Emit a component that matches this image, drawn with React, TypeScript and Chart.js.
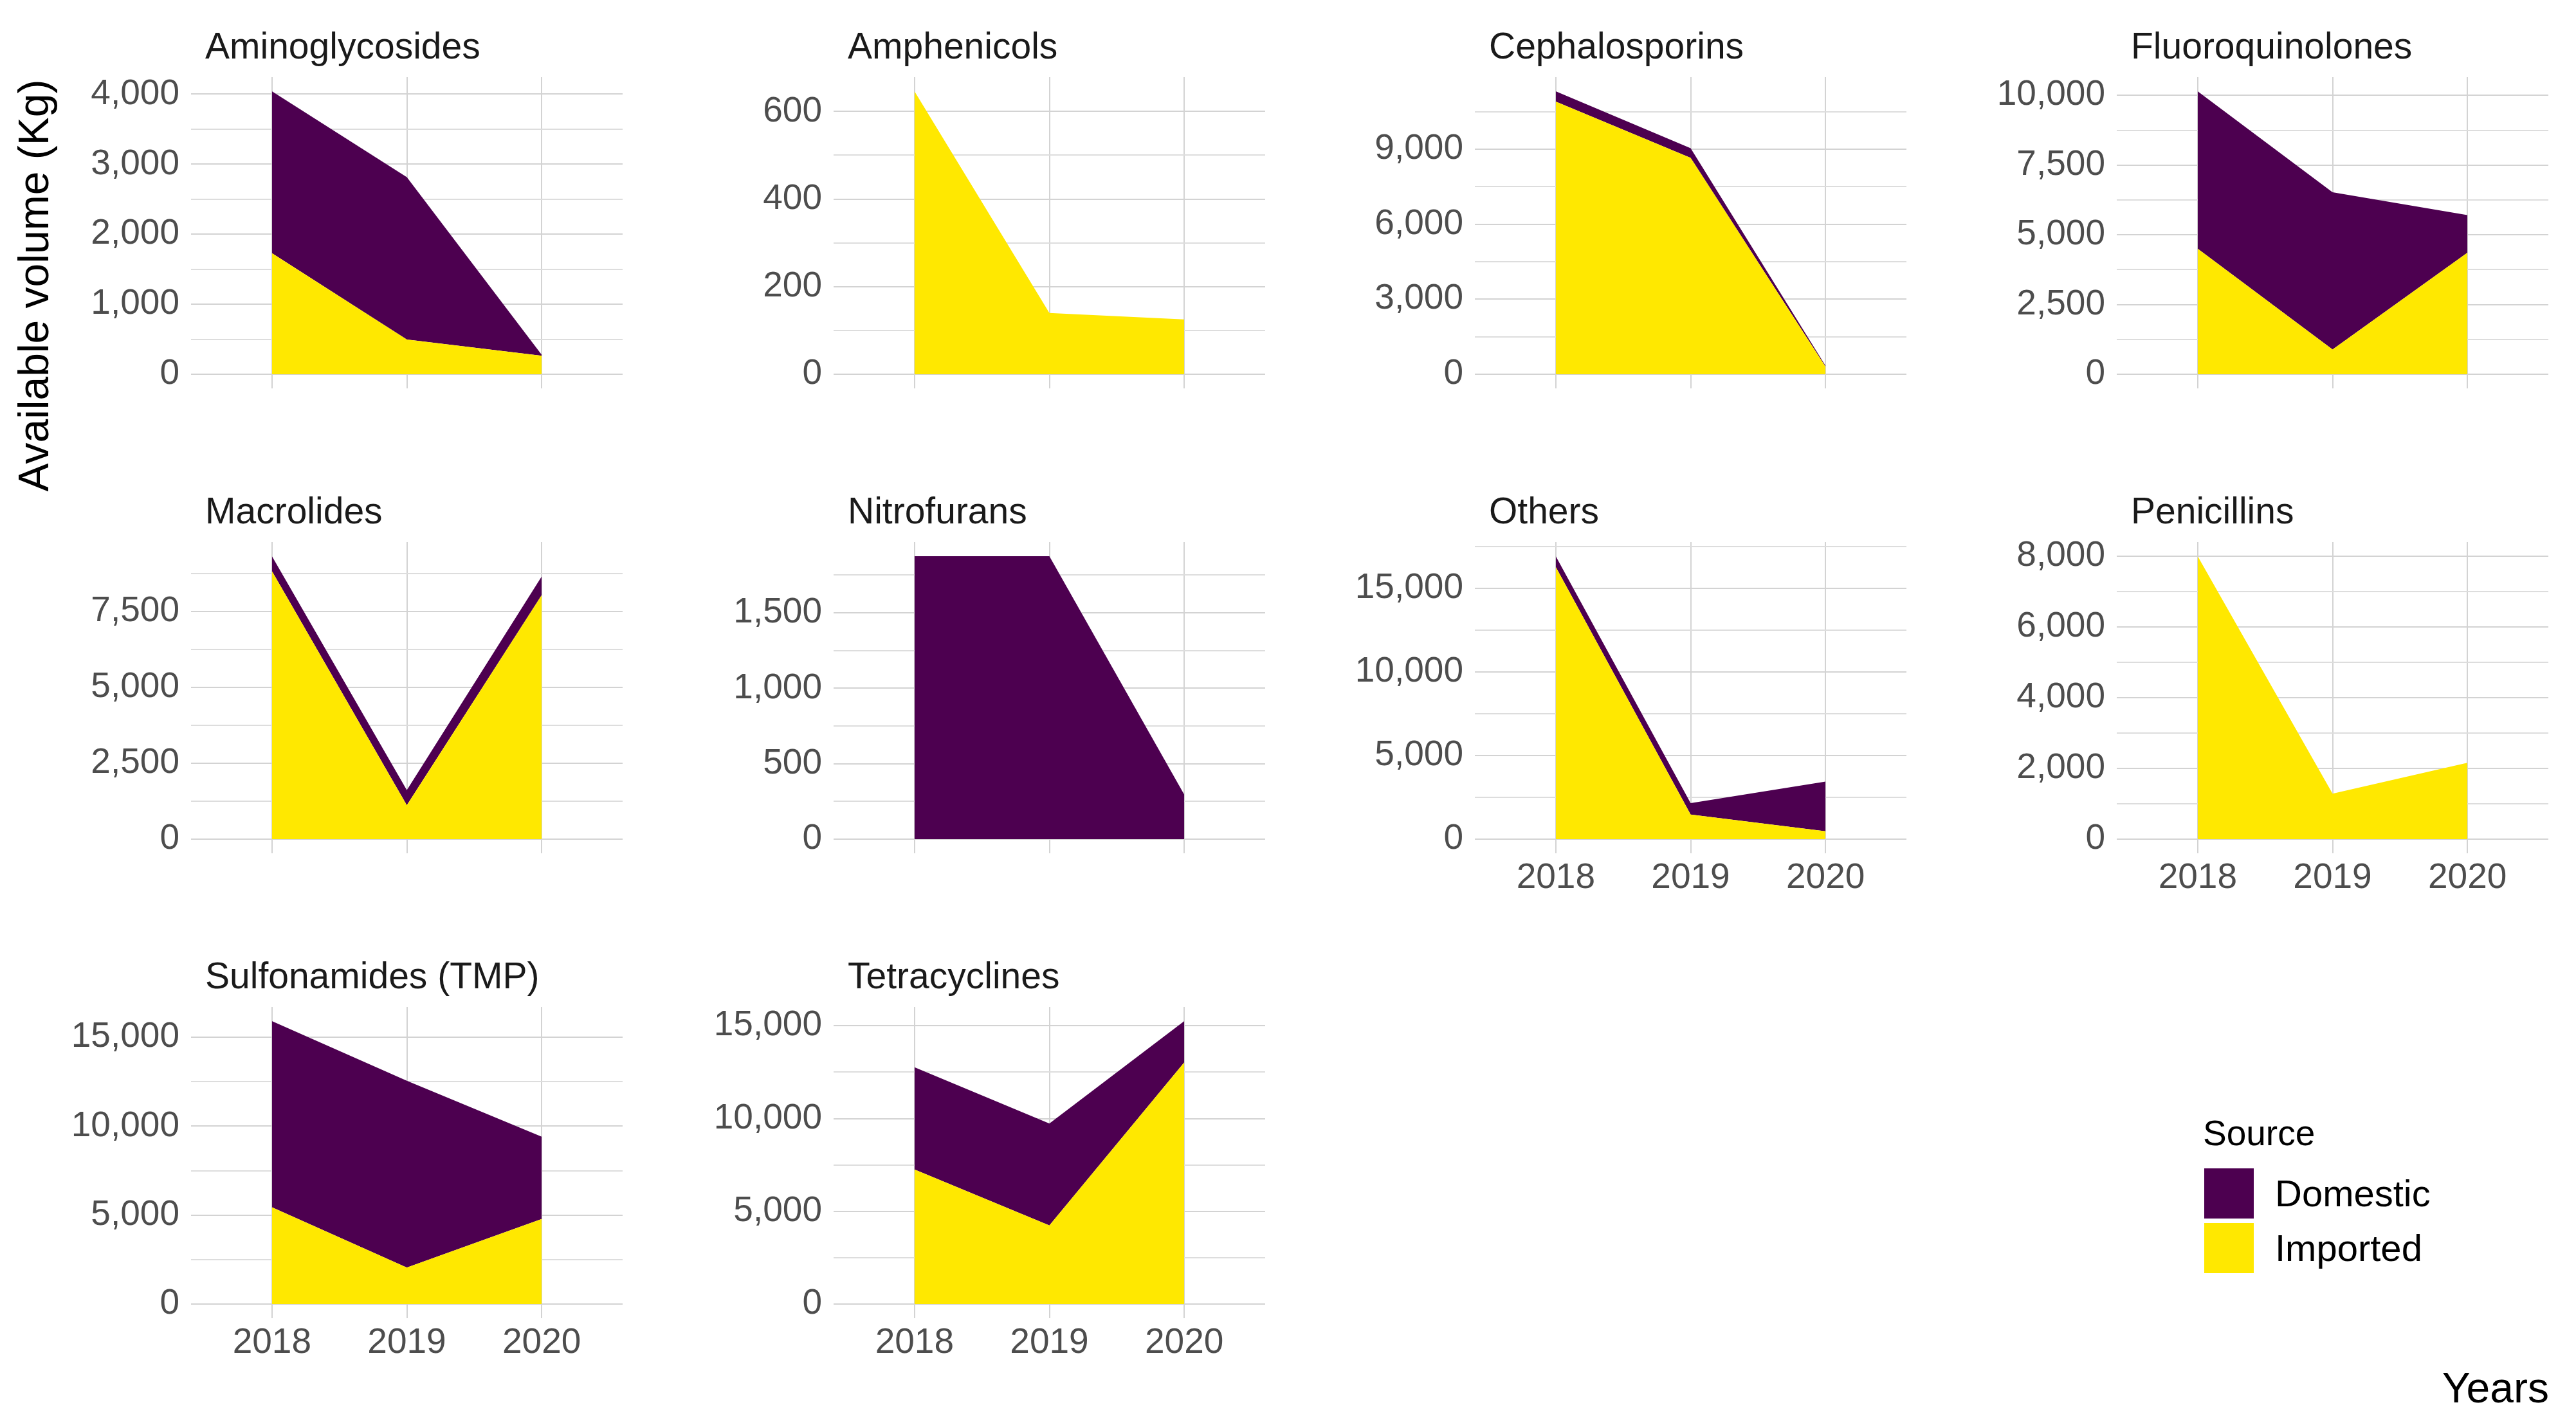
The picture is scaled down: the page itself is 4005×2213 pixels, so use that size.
import React, { useEffect, useRef } from "react";
import { Chart, registerables } from "chart.js";

Chart.register(...registerables);

// ---------- data ----------
const categories = [
  "Aminoglycosides",
  "Amphenicols",
  "Cephalosporins",
  "Fluoroquinolones",
  "Macrolides",
  "Nitrofurans",
  "Others",
  "Penicillins",
  "Sulfonamides (TMP)",
  "Tetracyclines",
];

const years = [2018, 2019, 2020];

// Imported volume (Kg) per category, for 2018, 2019, 2020
const importedVolumes = [
  [1730, 495, 265],
  [646, 140, 125],
  [10900, 8650, 300],
  [4500, 890, 4355],
  [8830, 1120, 8040],
  [0, 0, 0],
  [16290, 1470, 470],
  [8000, 1285, 2160],
  [5440, 2050, 4780],
  [7255, 4240, 13030],
];

// Domestic volume (Kg) per category, for 2018, 2019, 2020
const domesticVolumes = [
  [2311, 2320, 12],
  [0, 0, 0],
  [410, 384, 40],
  [5645, 5635, 1353],
  [493, 494, 618],
  [1875, 1875, 295],
  [641, 685, 2978],
  [0, 0, 0],
  [10464, 10503, 4630],
  [5507, 5489, 2223],
];

// y tick spacing per panel (labelled / minor grid)
const majorSteps = [1000, 200, 3000, 2500, 2500, 500, 5000, 2000, 5000, 5000];
const minorSteps = [500, 100, 1500, 1250, 1250, 250, 2500, 1000, 2500, 2500];
const showYearLabels = [false, false, false, false, false, false, true, true, true, true];

const sourceLabels = ["Domestic", "Imported"];
const sourceColors = ["#4d0050", "#ffe800"];

const legendTitle = "Source";
const yTitle = "Available volume (Kg)";
const xTitle = "Years";

// ---------- layout ----------
const FONT = '"Liberation Sans", Arial, Helvetica, sans-serif';
const COL_LEFT = [297, 1296, 2293, 3291];
const ROW_TOP = [120, 843, 1566];
const PLOT_W = 671;
const PLOT_H = 484;
const AXIS_W = 260;
const TITLE_H = 110;
const XAXIS_H = 90;
const RIGHT_PAD = 10;
const CANVAS_W = AXIS_W + PLOT_W + RIGHT_PAD;
const CANVAS_H = TITLE_H + PLOT_H + XAXIS_H;

function Panel({ index }: { index: number }) {
  const ref = useRef<HTMLCanvasElement | null>(null);

  useEffect(() => {
    const canvas = ref.current;
    if (!canvas) return;
    const imp = importedVolumes[index];
    const dom = domesticVolumes[index];
    const totals = imp.map((v, i) => v + dom[i]);
    const top = Math.max(...totals);
    const major = majorSteps[index];
    const minor = minorSteps[index];
    const title = categories[index];

    const titlePlugin = {
      id: "panelTitle",
      afterDraw(chart: any) {
        const { ctx, chartArea } = chart;
        ctx.save();
        ctx.font = `57px ${FONT}`;
        ctx.fillStyle = "#1a1a1a";
        ctx.textAlign = "left";
        ctx.textBaseline = "alphabetic";
        ctx.fillText(title, chartArea.left + 22, chartArea.top - 29);
        ctx.restore();
      },
    };

    const isMajor = (v: number) => Math.abs(v / major - Math.round(v / major)) < 1e-6;

    const chart = new Chart(canvas, {
      type: "line",
      data: {
        datasets: [
          {
            label: sourceLabels[1],
            data: years.map((y, i) => ({ x: y, y: imp[i] })),
            fill: "origin",
            backgroundColor: sourceColors[1],
            borderColor: sourceColors[1],
            borderWidth: 0,
            pointRadius: 0,
            tension: 0,
          },
          {
            label: sourceLabels[0],
            data: years.map((y, i) => ({ x: y, y: dom[i] })),
            fill: "-1",
            backgroundColor: sourceColors[0],
            borderColor: sourceColors[0],
            borderWidth: 0,
            pointRadius: 0,
            tension: 0,
          },
        ],
      },
      options: {
        animation: false,
        responsive: false,
        devicePixelRatio: 1,
        events: [],
        layout: { padding: { top: TITLE_H, right: RIGHT_PAD, left: 0, bottom: 0 } },
        plugins: {
          legend: { display: false },
          tooltip: { enabled: false },
          title: { display: false },
        },
        scales: {
          x: {
            type: "linear",
            min: years[0] - 0.6,
            max: years[years.length - 1] + 0.6,
            afterBuildTicks: (s: any) => {
              s.ticks = years.map((v) => ({ value: v }));
            },
            afterFit: (s: any) => {
              s.height = XAXIS_H;
            },
            border: { display: false },
            grid: { color: "#d3d3d3", lineWidth: 2, drawTicks: false },
            ticks: {
              display: showYearLabels[index],
              autoSkip: false,
              maxRotation: 0,
              padding: 6,
              color: "#4d4d4d",
              font: { family: FONT, size: 55 },
              callback: (v: any) => String(v),
            },
          },
          y: {
            type: "linear",
            stacked: true,
            min: -0.05 * top,
            max: 1.05 * top,
            afterBuildTicks: (s: any) => {
              const t: { value: number }[] = [];
              for (let v = 0; v <= 1.05 * top + 1e-9; v += minor) t.push({ value: v });
              s.ticks = t;
            },
            afterFit: (s: any) => {
              s.width = AXIS_W;
            },
            border: { display: false },
            grid: {
              drawTicks: false,
              lineWidth: 2,
              color: (ctx: any) => (ctx.tick && isMajor(ctx.tick.value) ? "#d3d3d3" : "#dddddd"),
            },
            ticks: {
              autoSkip: false,
              padding: 18,
              color: "#4d4d4d",
              font: { family: FONT, size: 55 },
              callback: (v: any) => (isMajor(Number(v)) ? Number(v).toLocaleString("en-US") : ""),
            },
          },
        },
      },
      plugins: [titlePlugin],
    } as any);

    return () => chart.destroy();
  }, [index]);

  const col = index % 4;
  const row = Math.floor(index / 4);
  return (
    <canvas
      ref={ref}
      width={CANVAS_W}
      height={CANVAS_H}
      style={{
        position: "absolute",
        left: COL_LEFT[col] - AXIS_W,
        top: ROW_TOP[row] - TITLE_H,
        width: CANVAS_W,
        height: CANVAS_H,
      }}
    />
  );
}

export default function App() {
  useEffect(() => {
    document.body.style.margin = "0";
  }, []);

  const textBase: React.CSSProperties = {
    position: "absolute",
    fontFamily: FONT,
    whiteSpace: "nowrap",
    color: "#000",
  };

  return (
    <div
      style={{
        position: "relative",
        width: 4005,
        height: 2213,
        overflow: "hidden",
        background: "#fff",
      }}
    >
      {categories.map((_, i) => (
        <Panel key={i} index={i} />
      ))}

      {/* y axis title */}
      <div
        style={{
          ...textBase,
          left: 52 - 400,
          top: 444 - 40,
          width: 800,
          height: 80,
          lineHeight: "80px",
          fontSize: 66,
          textAlign: "center",
          transform: "rotate(-90deg)",
        }}
      >
        {yTitle}
      </div>

      {/* x axis title */}
      <div
        style={{
          ...textBase,
          right: 4005 - 3963,
          top: 2158 - 40,
          height: 80,
          lineHeight: "80px",
          fontSize: 66,
          textAlign: "right",
        }}
      >
        {xTitle}
      </div>

      {/* legend */}
      <div
        style={{
          ...textBase,
          left: 3425,
          top: 1762 - 40,
          height: 80,
          lineHeight: "80px",
          fontSize: 55,
        }}
      >
        {legendTitle}
      </div>
      {sourceLabels.map((lab, i) => {
        const cy = 1856 + i * 85;
        return (
          <React.Fragment key={lab}>
            <div
              style={{
                position: "absolute",
                left: 3427,
                top: cy - 39,
                width: 77,
                height: 78,
                background: sourceColors[i],
              }}
            />
            <div
              style={{
                ...textBase,
                left: 3537,
                top: cy - 40,
                height: 80,
                lineHeight: "80px",
                fontSize: 58,
              }}
            >
              {lab}
            </div>
          </React.Fragment>
        );
      })}
    </div>
  );
}
